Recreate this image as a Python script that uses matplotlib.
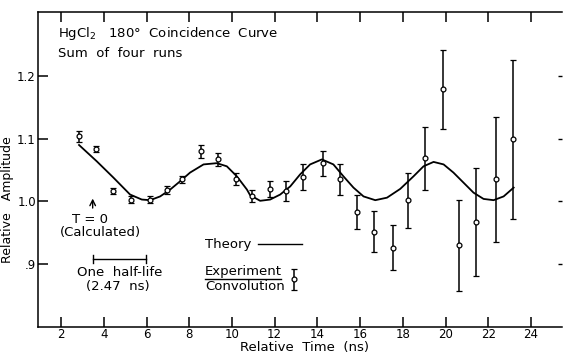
import matplotlib
matplotlib.use("Agg")
import matplotlib.pyplot as plt

# measured points (ns, relative amplitude, error)
t_exp = [2.84, 3.64, 4.45, 5.26, 6.17, 6.95, 7.65, 8.57, 9.37, 10.18,
         10.96, 11.76, 12.55, 13.35, 14.26, 15.05, 15.85, 16.63, 17.54,
         18.24, 19.05, 19.86, 20.64, 21.44, 22.34, 23.15]
amp_exp = [1.104, 1.084, 1.017, 1.003, 1.003, 1.018, 1.035, 1.080, 1.067, 1.036,
           1.009, 1.020, 1.016, 1.039, 1.061, 1.035, 0.983, 0.952, 0.926,
           1.002, 1.069, 1.179, 0.930, 0.967, 1.035, 1.099]
err_exp = [0.009, 0.005, 0.005, 0.005, 0.005, 0.006, 0.006, 0.010, 0.010, 0.010,
           0.010, 0.013, 0.016, 0.020, 0.020, 0.024, 0.027, 0.033, 0.036,
           0.044, 0.050, 0.063, 0.073, 0.086, 0.100, 0.127]

# theory curve
t_th = [2.84, 3.67, 4.45, 5.23, 5.78, 6.17, 6.64, 7.11, 7.57, 8.04, 8.67, 9.29,
        9.76, 10.23, 10.70, 10.85, 11.32, 11.79, 12.26, 12.73, 13.19, 13.66,
        14.21, 14.75, 15.22, 15.69, 16.16, 16.71, 17.26, 17.88, 18.50, 18.97,
        19.44, 19.91, 20.37, 20.84, 21.31, 21.78, 22.25, 22.72, 23.19]
amp_th = [1.090, 1.064, 1.038, 1.011, 1.003, 1.002, 1.008, 1.019, 1.032, 1.046,
          1.059, 1.061, 1.056, 1.040, 1.019, 1.010, 1.001, 1.003, 1.011, 1.024,
          1.043, 1.059, 1.067, 1.059, 1.040, 1.022, 1.008, 1.002, 1.006, 1.020,
          1.040, 1.056, 1.063, 1.059, 1.046, 1.030, 1.014, 1.004, 1.002, 1.008,
          1.022]

xticks = [2, 4, 6, 8, 10, 12, 14, 16, 18, 20, 22, 24]
yticks = [0.9, 1.0, 1.1, 1.2]
ylabels = [".9", "1.0", "1.1", "1.2"]

fs = 9.5
fig = plt.figure(figsize=(5.63, 3.53), dpi=100)
ax = fig.add_axes([0.0675, 0.074, 0.931, 0.892])

ax.plot(t_th, amp_th, color="black", lw=1.3)
ax.errorbar(t_exp, amp_exp, yerr=err_exp, fmt="o", ms=3.5, mfc="white",
            mec="black", mew=0.9, ecolor="black", elinewidth=1.1,
            capsize=2.2, capthick=1.0)

ax.set_xlim(0.92, 25.46)
ax.set_ylim(0.8, 1.302)
ax.set_xticks(xticks)
ax.set_yticks(yticks)
ax.set_yticklabels(ylabels)
ax.tick_params(axis="both", direction="in", length=7, width=1.1,
               labelsize=8.5, top=True)
ax.tick_params(axis="x", pad=0.5)
ax.tick_params(axis="y", pad=1.5)
ax.spines["right"].set_visible(False)
for s in ["left", "bottom", "top"]:
    ax.spines[s].set_linewidth(1.1)

# short ticks on the right edge
sec = ax.secondary_yaxis("right")
sec.set_yticks(yticks)
sec.tick_params(direction="in", length=3, width=1.0, labelright=False)
sec.spines["right"].set_visible(False)

fig.text(8 / 563, 1 - 200 / 353, "Relative   Amplitude", rotation=90,
         ha="center", va="center", fontsize=9)
fig.text(304 / 563, 1 - 347 / 353, "Relative  Time  (ns)",
         ha="center", va="center", fontsize=9.5)

# annotations
ax.text(1.86, 1.268, "HgCl$_2$   180\u00b0  Coincidence  Curve",
        fontsize=fs, va="center")
ax.text(1.86, 1.2365, "Sum  of  four  runs", fontsize=fs, va="center")

ax.annotate("", xy=(3.48, 1.009), xytext=(3.48, 0.985),
            arrowprops=dict(arrowstyle="->", color="black", lw=1.0))
ax.text(3.36, 0.971, "T = 0", fontsize=fs, ha="center", va="center")
ax.text(3.83, 0.951, "(Calculated)", fontsize=fs, ha="center", va="center")

ax.plot([3.5, 5.97], [0.908, 0.908], color="black", lw=1.0)
ax.plot([3.5, 3.5], [0.902, 0.914], color="black", lw=1.0)
ax.plot([5.97, 5.97], [0.902, 0.914], color="black", lw=1.0)
ax.text(4.76, 0.887, "One  half-life", fontsize=fs, ha="center", va="center")
ax.text(4.67, 0.865, "(2.47  ns)", fontsize=fs, ha="center", va="center")

ax.text(8.74, 0.932, "Theory", fontsize=fs, va="center")
ax.plot([11.23, 13.29], [0.932, 0.932], color="black", lw=1.0)
ax.text(8.74, 0.889, "Experiment", fontsize=fs, va="center")
ax.plot([8.74, 12.3], [0.877, 0.877], color="black", lw=1.0)
ax.text(8.74, 0.865, "Convolution", fontsize=fs, va="center")
ax.errorbar([12.91], [0.876], yerr=[0.017], fmt="o", ms=3.5, mfc="white",
            mec="black", mew=0.9, ecolor="black", elinewidth=1.1,
            capsize=2.2, capthick=1.0)

fig.savefig("out.png", dpi=100)
